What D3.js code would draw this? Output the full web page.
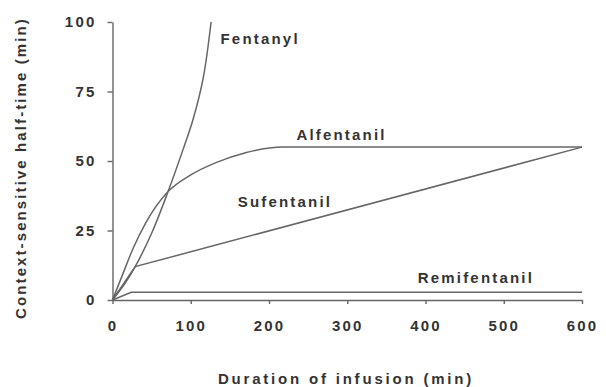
<!DOCTYPE html>
<html>
<head>
<meta charset="utf-8">
<script src="https://cdn.jsdelivr.net/npm/d3@7"></script>
<style>
  body { margin: 0; background: #fff; }
  svg text { font-family: "Liberation Sans", Arial, sans-serif; fill: #333; font-weight: bold; }
  .axis path, .axis line { stroke: #666; stroke-width: 1.4; }
  .axis text { font-size: 15px; letter-spacing: 2.2px; }
  .drug { fill: none; stroke: #666; stroke-width: 1.5; }
  .lbl { font-size: 15px; letter-spacing: 2.2px; }
  .ttl { font-size: 15px; letter-spacing: 2.8px; }
</style>
</head>
<body>
<svg id="chart"></svg>
<script>
var w = 606;
var h = 387;

// values (minutes)
var fentanylX = [0, 16, 29, 50, 71, 90, 103, 116, 126];
var fentanylY = [0, 6, 12, 24, 39, 54, 65, 80, 100];

var alfentanilX = [0, 12, 27, 42, 71, 100, 133, 170, 218, 600];
var alfentanilY = [0, 8.5, 19, 27.5, 39, 45, 49.5, 53, 55, 55];

var sufentanilX = [0, 29, 600];
var sufentanilY = [0, 12, 55];

var remifentanilX = [0, 24, 600];
var remifentanilY = [0, 2.8, 2.8];

var xTicks = [0, 100, 200, 300, 400, 500, 600];
var yTicks = [0, 25, 50, 75, 100];

var seriesNames = ["Fentanyl", "Alfentanil", "Sufentanil", "Remifentanil"];
var seriesX = [fentanylX, alfentanilX, sufentanilX, remifentanilX];
var seriesY = [fentanylY, alfentanilY, sufentanilY, remifentanilY];
var seriesCurve = [d3.curveCatmullRom, d3.curveMonotoneX, d3.curveLinear, d3.curveLinear];
// label anchor in data units (start of text, baseline)
var labelX = [138, 235, 160, 390];
var labelY = [92, 57.5, 33.5, 6];

var x = d3.scaleLinear().domain([0, 600]).range([112.5, 582]);
var y = d3.scaleLinear().domain([0, 100]).range([300, 22]);

var graph = d3.select("#chart").attr("width", w).attr("height", h);

var xAxis = d3.axisBottom(x).tickValues(xTicks).tickSize(4).tickPadding(16).tickSizeOuter(0);
var gX = graph.append("g").attr("class", "x axis").attr("transform", "translate(0,300)").call(xAxis);

var yAxis = d3.axisLeft(y).tickValues(yTicks).tickSize(5).tickPadding(11).tickSizeOuter(0);
var gY = graph.append("g").attr("class", "y axis").attr("transform", "translate(112.5,0)").call(yAxis);

seriesNames.forEach(function(name, i) {
  var line = d3.line()
    .x(function(d) { return x(d[0]); })
    .y(function(d) { return y(d[1]); })
    .curve(seriesCurve[i]);
  var pts = seriesX[i].map(function(v, j) { return [v, seriesY[i][j]]; });
  graph.append("path").attr("class", "drug").attr("d", line(pts));
  graph.append("text").attr("class", "lbl")
    .attr("x", x(labelX[i])).attr("y", y(labelY[i]))
    .text(name);
});

graph.append("text").attr("class", "ttl")
  .attr("text-anchor", "middle")
  .attr("x", 346).attr("y", 384)
  .text("Duration of infusion (min)");

graph.append("text").attr("class", "ttl")
  .attr("text-anchor", "middle")
  .attr("transform", "translate(26,168) rotate(-90)")
  .style("letter-spacing", "2.1px")
  .text("Context-sensitive half-time (min)");
</script>
</body>
</html>
